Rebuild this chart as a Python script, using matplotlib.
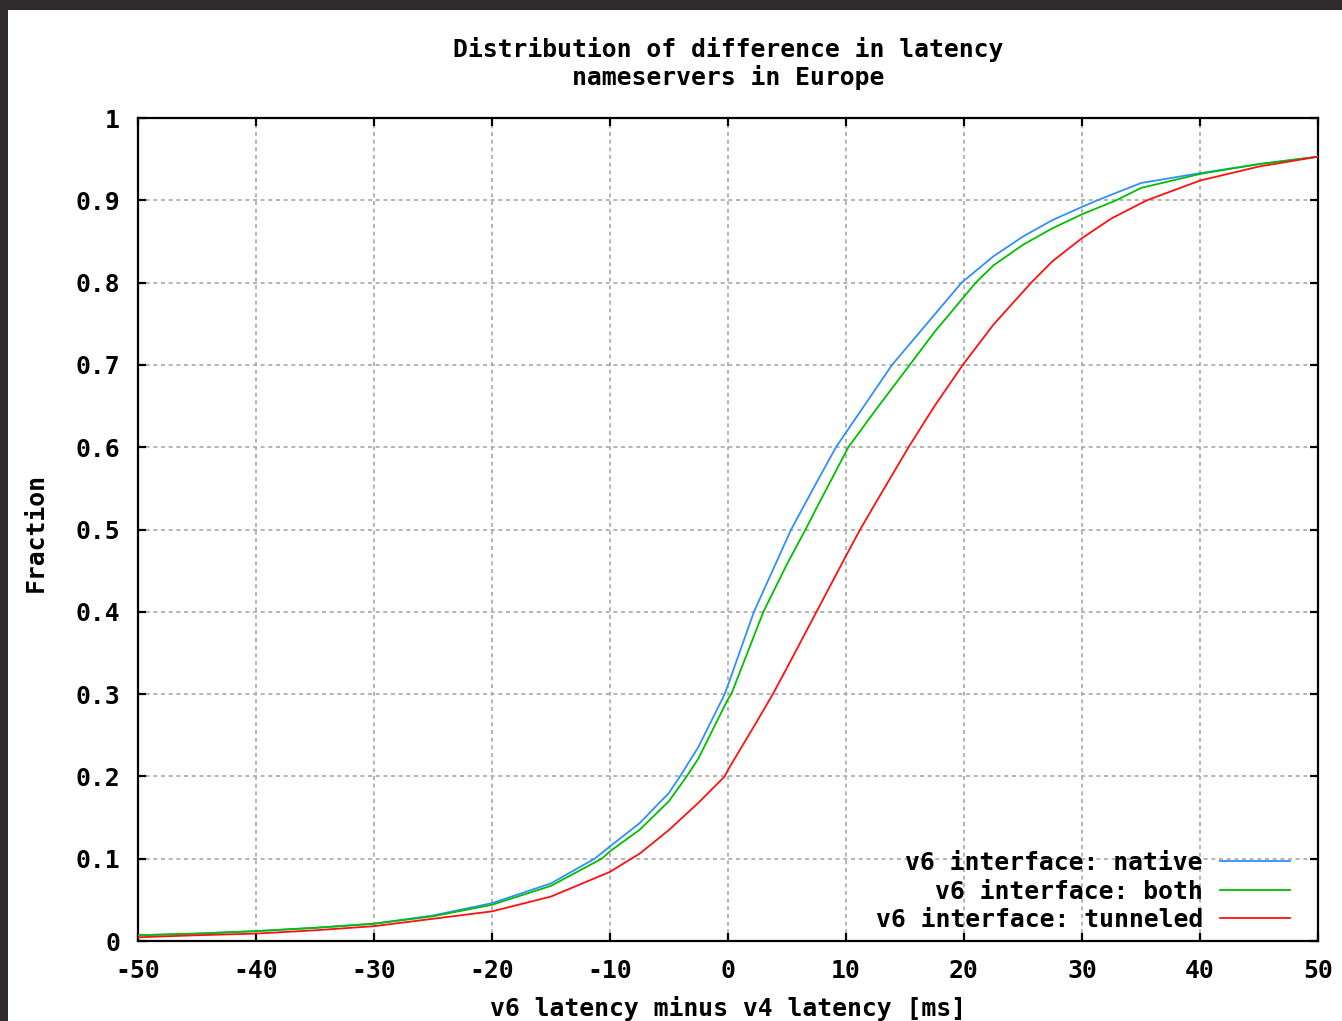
import matplotlib
matplotlib.use("Agg")
import matplotlib.pyplot as plt
from matplotlib.patches import Rectangle

# ---- data ----
x_native = [-50, -45, -40, -35, -30, -25, -20, -15, -11.3, -10, -7.5, -5, -4.07, -2.5,
            -0.28, 0, 2.2, 5.35, 7.5, 9.15, 13.9, 19.8, 22.5, 25, 27.5, 30, 31.3,
            35, 40, 45, 50]
y_native = [0.007, 0.009, 0.012, 0.016, 0.021, 0.031, 0.046, 0.070, 0.100, 0.115, 0.143, 0.180,
            0.200, 0.236, 0.300, 0.311, 0.400, 0.500, 0.557, 0.600, 0.700, 0.800, 0.832,
            0.856, 0.876, 0.892, 0.900, 0.921, 0.933, 0.944, 0.953]

x_both = [-50, -45, -40, -35, -30, -25, -20, -15, -10.7, -10, -7.5, -5, -3.5, -2.5,
          0, 0.28, 3.0, 5, 6.57, 7.5, 10.2, 12.5, 15.4, 17.5, 21.0, 22.5, 25, 27.5,
          30, 32.9, 35, 40, 45, 50]
y_both = [0.007, 0.009, 0.012, 0.016, 0.021, 0.030, 0.044, 0.067, 0.100, 0.109, 0.135, 0.170,
          0.200, 0.222, 0.294, 0.300, 0.400, 0.458, 0.500, 0.526, 0.600, 0.645, 0.700,
          0.740, 0.800, 0.821, 0.846, 0.866, 0.883, 0.900, 0.915, 0.932, 0.944, 0.953]

x_tunnel = [-50, -45, -40, -35, -30, -25, -20, -15, -10, -8.2, -7.5, -5, -2.5, -0.28,
            0, 2.5, 3.8, 5, 7.5, 10, 11.2, 12.5, 15.3, 17.5, 19.9, 22.5, 25.7, 27.5,
            30, 32.5, 35.5, 40, 45, 50]
y_tunnel = [0.0045, 0.007, 0.009, 0.013, 0.018, 0.027, 0.036, 0.054, 0.084, 0.100, 0.106,
            0.135, 0.168, 0.200, 0.208, 0.268, 0.300, 0.332, 0.400, 0.468, 0.500, 0.532,
            0.600, 0.650, 0.700, 0.749, 0.800, 0.826, 0.854, 0.878, 0.900, 0.924, 0.941,
            0.953]

labels = ["v6 interface: native", "v6 interface: both", "v6 interface: tunneled"]
colors = ["#2f8fff", "#00c000", "#ff1010"]

x_ticks = [-50, -40, -30, -20, -10, 0, 10, 20, 30, 40, 50]
y_ticks = [0, 0.1, 0.2, 0.3, 0.4, 0.5, 0.6, 0.7, 0.8, 0.9, 1.0]
y_ticklabels = ["0", "0.1", "0.2", "0.3", "0.4", "0.5", "0.6", "0.7", "0.8", "0.9", "1"]

title_lines = ["Distribution of difference in latency", "nameservers in Europe"]
xlabel = "v6 latency minus v4 latency [ms]"
ylabel = "Fraction"

# ---- figure ----
W, H = 1342, 1021
fig = plt.figure(figsize=(W / 100, H / 100), dpi=100)
fig.patch.set_facecolor("#302c2d")
fig.patches.append(Rectangle((8 / W, 0), 1 - 8 / W, 1 - 10 / H, transform=fig.transFigure,
                             facecolor="white", edgecolor="none", zorder=-10))

font = dict(family="DejaVu Sans Mono", weight="bold", size=17.8)

ax = fig.add_axes([138 / W, 1 - 941 / H, (1318 - 138) / W, (941 - 118) / H])
ax.set_zorder(5)
ax.set_facecolor("white")

series = [(x_native, y_native), (x_both, y_both), (x_tunnel, y_tunnel)]
for (xs, ys), lab, c in zip(series, labels, colors):
    ax.plot(xs, ys, color=c, lw=1.3, label=lab, zorder=3, solid_joinstyle="round")

ax.set_xlim(-50, 50)
ax.set_ylim(0, 1)
ax.set_xticks(x_ticks)
ax.set_xticklabels([str(t) for t in x_ticks], **font)
ax.set_yticks(y_ticks)
ax.set_yticklabels(y_ticklabels, **font)
ax.tick_params(direction="in", length=6, width=1.6, top=True, right=True, color="black")
ax.tick_params(axis="y", pad=13)
ax.tick_params(axis="x", pad=13)
for s in ax.spines.values():
    s.set_linewidth(1.6)
    s.set_color("black")
ax.grid(True, color="#a8a8a8", lw=1.2, linestyle=(0, (2.4, 2.2)), zorder=1)

leg = ax.legend(loc="lower right", bbox_to_anchor=(1 - 28 / 1180, 9 / 823),
                markerfirst=False, frameon=False, prop=font, handlelength=2.83,
                handletextpad=0.69, labelspacing=0.18, borderpad=0, borderaxespad=0)

fig.text(728 / W, 1 - 50 / H, title_lines[0], ha="center", va="center", **font)
fig.text(728 / W, 1 - 78 / H, title_lines[1], ha="center", va="center", **font)
fig.text(728 / W, 1 - 1008 / H, xlabel, ha="center", va="center", **font)
fig.text(36 / W, 1 - 533 / H, ylabel, ha="center", va="center", rotation=90, **font)

fig.savefig("out.png", dpi=100, facecolor=fig.get_facecolor())
